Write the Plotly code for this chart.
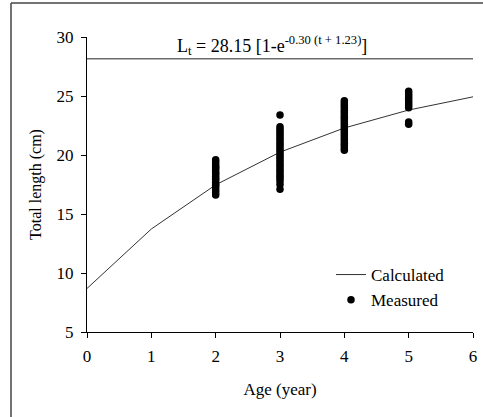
import plotly.graph_objects as go

# Calculated von Bertalanffy curve values
calc_age = [0, 1, 2, 3, 4, 5, 6]
calc_len = [8.69, 13.73, 17.47, 20.24, 22.29, 23.81, 24.93]

# Asymptotic length line
linf_x = [0, 6]
linf_val = 28.15

# Measured lengths per age
age2 = [16.6, 16.8, 17.0, 17.2, 17.4, 17.5, 17.7, 17.9, 18.0, 18.2, 18.4, 18.5,
        18.7, 18.9, 19.0, 19.2, 19.4, 19.6]
age3 = [17.1, 17.5, 17.8, 18.0, 18.2, 18.4, 18.6, 18.8, 19.0, 19.2, 19.4, 19.6,
        19.8, 20.0, 20.2, 20.4, 20.6, 20.8, 21.0, 21.2, 21.4, 21.6, 21.8, 22.0,
        22.2, 22.4, 23.4]
age4 = [20.4, 20.6, 20.8, 21.0, 21.2, 21.4, 21.6, 21.8, 22.0, 22.2, 22.4, 22.6,
        22.8, 23.0, 23.2, 23.4, 23.6, 23.8, 24.0, 24.2, 24.4, 24.6]
age5 = [22.6, 22.8, 24.0, 24.2, 24.4, 24.6, 24.8, 25.0, 25.2, 25.4]

x_ticks = [0, 1, 2, 3, 4, 5, 6]
y_ticks = [5, 10, 15, 20, 25, 30]

meas_x = [2] * len(age2) + [3] * len(age3) + [4] * len(age4) + [5] * len(age5)
meas_y = age2 + age3 + age4 + age5

FONT = "Liberation Serif"
W, H = 483, 417
ML, MR, MT, MB = 87, 10, 37, 85
PW, PH = W - ML - MR, H - MT - MB

def px_x(p):
    return (p - ML) / PW

def px_y(p):
    return (H - MB - p) / PH

fig = go.Figure()
fig.add_trace(go.Scatter(x=linf_x, y=[linf_val, linf_val], mode="lines",
                         line=dict(color="#222222", width=1), showlegend=False,
                         hoverinfo="skip", cliponaxis=False))
fig.add_trace(go.Scatter(x=calc_age, y=calc_len, mode="lines", name="Calculated",
                         line=dict(color="#333333", width=1)))
fig.add_trace(go.Scatter(x=meas_x, y=meas_y, mode="markers", name="Measured",
                         marker=dict(color="black", size=7.5)))

fig.add_annotation(x=2.88, y=29.3, xref="x", yref="y",
                   text="L<sub>t</sub> = 28.15 [1-e<sup>-0.30 (t + 1.23)</sup>]",
                   showarrow=False, font=dict(family=FONT, size=18, color="black"))

# image frame (top and left edges)
fig.add_shape(type="line", xref="paper", yref="paper",
              x0=px_x(11), x1=px_x(W + 5), y0=px_y(3), y1=px_y(3),
              line=dict(color="#444444", width=1.5))
fig.add_shape(type="line", xref="paper", yref="paper",
              x0=px_x(11), x1=px_x(11), y0=px_y(3), y1=px_y(H + 5),
              line=dict(color="#444444", width=1.5))

axis_common = dict(showgrid=False, zeroline=False, showline=True, linecolor="black",
                   linewidth=1, ticks="outside", ticklen=5, tickcolor="black",
                   automargin=False, ticklabelstandoff=4,
                   tickfont=dict(family=FONT, size=17, color="black"))
fig.update_xaxes(range=[0, 6], tickvals=x_ticks, **axis_common,
                 title=dict(text="Age (year)", font=dict(family=FONT, size=17, color="black"),
                            standoff=17))
fig.update_yaxes(range=[5, 30], tickvals=y_ticks, **axis_common,
                 title=dict(text="Total length (cm)", font=dict(family=FONT, size=16, color="black"),
                            standoff=10))

fig.update_layout(
    width=W, height=H,
    margin=dict(l=ML, r=MR, t=MT, b=MB),
    plot_bgcolor="white", paper_bgcolor="white",
    font=dict(family=FONT, color="black"),
    legend=dict(x=px_x(331), y=px_y(257), xanchor="left", yanchor="top",
                font=dict(family=FONT, size=17, color="black"),
                bgcolor="rgba(0,0,0,0)", tracegroupgap=0),
)

fig.write_html("out.html", config={"displayModeBar": False},
               post_script="document.body.style.margin='0';document.body.style.overflow='hidden';")
